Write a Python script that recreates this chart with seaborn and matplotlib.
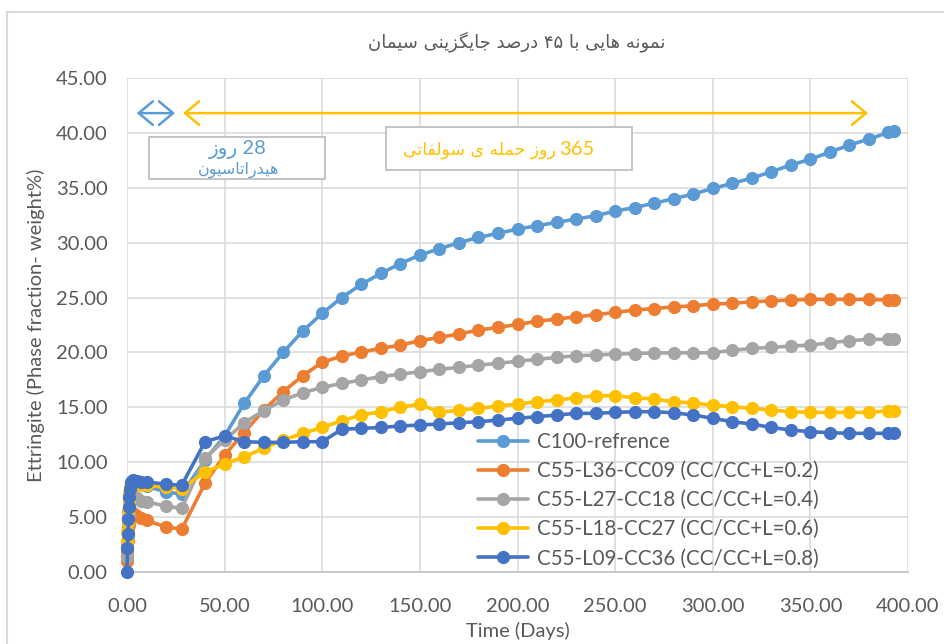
import numpy as np
import pandas as pd
import matplotlib
matplotlib.use("Agg")
import matplotlib.pyplot as plt
import seaborn as sns
from matplotlib.patches import Rectangle, FancyArrowPatch
from matplotlib.lines import Line2D

# ---------------- data ----------------
days = [0, 0.25, 0.5, 0.75, 1, 1.25, 1.5, 2, 3, 5, 7, 10, 20, 28,
        40, 50, 60, 70, 80, 90, 100, 110, 120, 130, 140, 150, 160, 170, 180, 190,
        200, 210, 220, 230, 240, 250, 260, 270, 280, 290, 300, 310, 320, 330, 340,
        350, 360, 370, 380, 390, 393]

c100_ref = [1.5, 2.8, 4.0, 5.0, 5.9, 6.7, 7.3, 7.8, 8.0, 8.0, 7.9, 7.8, 7.3, 7.1,
            10.2, 12.4, 15.35, 17.85, 20.0, 21.95, 23.56, 25.0, 26.2, 27.2, 28.1, 28.87,
            29.45, 30.0, 30.48, 30.85, 31.24, 31.54, 31.85, 32.15, 32.45, 32.88, 33.2,
            33.6, 34.0, 34.43, 34.94, 35.4, 35.88, 36.46, 37.07, 37.6, 38.25, 38.89,
            39.44, 40.04, 40.16]

c55_l36_cc09 = [1.0, 1.9, 2.8, 3.6, 4.3, 4.9, 5.3, 5.5, 5.4, 5.1, 4.9, 4.7, 4.1, 3.9,
                8.1, 10.65, 12.7, 14.75, 16.42, 17.88, 19.1, 19.67, 20.04, 20.37, 20.67,
                21.07, 21.37, 21.68, 22.04, 22.28, 22.56, 22.83, 23.04, 23.25, 23.43,
                23.65, 23.86, 24.0, 24.15, 24.25, 24.4, 24.47, 24.62, 24.7, 24.77, 24.83,
                24.83, 24.83, 24.83, 24.77, 24.77]

c55_l27_cc18 = [1.4, 2.5, 3.5, 4.4, 5.2, 5.9, 6.4, 6.8, 6.9, 6.7, 6.5, 6.4, 6.0, 5.8,
                10.4, 12.0, 13.6, 14.7, 15.66, 16.33, 16.82, 17.18, 17.49, 17.79, 18.03,
                18.24, 18.46, 18.64, 18.85, 19.0, 19.2, 19.37, 19.55, 19.7, 19.76, 19.85,
                19.9, 19.95, 19.97, 19.97, 19.97, 20.2, 20.37, 20.46, 20.58, 20.67, 20.88,
                21.07, 21.19, 21.19, 21.19]

c55_l18_cc27 = [2.8, 3.6, 4.6, 5.6, 6.5, 7.2, 7.7, 8.0, 8.1, 8.0, 7.9, 7.9, 7.7, 7.6,
                9.1, 9.84, 10.5, 11.26, 12.02, 12.63, 13.17, 13.78, 14.3, 14.6, 15.0, 15.3,
                14.54, 14.75, 14.9, 15.12, 15.3, 15.51, 15.66, 15.87, 16.06, 16.06, 15.87,
                15.76, 15.51, 15.4, 15.2, 15.06, 14.9, 14.75, 14.6, 14.54, 14.54, 14.54,
                14.54, 14.69, 14.69]

c55_l09_cc36 = [0.0, 2.2, 3.5, 4.8, 5.9, 6.8, 7.6, 8.2, 8.4, 8.3, 8.2, 8.2, 8.0, 7.9,
                11.87, 12.4, 11.87, 11.81, 11.81, 11.87, 11.87, 13.0, 13.08, 13.17, 13.3,
                13.39, 13.48, 13.6, 13.69, 13.84, 14.0, 14.15, 14.3, 14.45, 14.45, 14.54,
                14.6, 14.6, 14.5, 14.3, 14.0, 13.69, 13.48, 13.17, 12.93, 12.78, 12.69,
                12.63, 12.63, 12.63, 12.63]

series_names = ["C100-refrence",
                "C55-L36-CC09 (CC/CC+L=0.2)",
                "C55-L27-CC18 (CC/CC+L=0.4)",
                "C55-L18-CC27 (CC/CC+L=0.6)",
                "C55-L09-CC36 (CC/CC+L=0.8)"]
series_values = [c100_ref, c55_l36_cc09, c55_l27_cc18, c55_l18_cc27, c55_l09_cc36]
colors = ["#5B9BD5", "#ED7D31", "#A5A5A5", "#FFC000", "#4472C4"]

x_ticks = [0, 50, 100, 150, 200, 250, 300, 350, 400]
y_ticks = [0, 5, 10, 15, 20, 25, 30, 35, 40, 45]

title_text = "نمونه هایی با ۴۵ درصد جایگزینی سیمان"
box1_line1 = "28 روز"
box1_line2 = "هیدراتاسیون"
box2_number = "365"
box2_words = "روز حمله ی سولفاتی"
x_label = "Time (Days)"
y_label = "Ettringite (Phase fraction- weight%)"

# ------------- simple Arabic-script shaping for display -------------
_FORMS = {
    '\u0627': ('\uFE8D', '\uFE8E', None, None),
    '\u0628': ('\uFE8F', '\uFE90', '\uFE91', '\uFE92'),
    '\u062A': ('\uFE95', '\uFE96', '\uFE97', '\uFE98'),
    '\u062C': ('\uFE9D', '\uFE9E', '\uFE9F', '\uFEA0'),
    '\u062D': ('\uFEA1', '\uFEA2', '\uFEA3', '\uFEA4'),
    '\u062F': ('\uFEA9', '\uFEAA', None, None),
    '\u0631': ('\uFEAD', '\uFEAE', None, None),
    '\u0632': ('\uFEAF', '\uFEB0', None, None),
    '\u0633': ('\uFEB1', '\uFEB2', '\uFEB3', '\uFEB4'),
    '\u0635': ('\uFEB9', '\uFEBA', '\uFEBB', '\uFEBC'),
    '\u0641': ('\uFED1', '\uFED2', '\uFED3', '\uFED4'),
    '\u0644': ('\uFEDD', '\uFEDE', '\uFEDF', '\uFEE0'),
    '\u0645': ('\uFEE1', '\uFEE2', '\uFEE3', '\uFEE4'),
    '\u0646': ('\uFEE5', '\uFEE6', '\uFEE7', '\uFEE8'),
    '\u0647': ('\uFEE9', '\uFEEA', '\uFEEB', '\uFEEC'),
    '\u0648': ('\uFEED', '\uFEEE', None, None),
    '\u06CC': ('\uFBFC', '\uFBFD', '\uFBFE', '\uFBFF'),
    '\u06AF': ('\uFB92', '\uFB93', '\uFB94', '\uFB95'),
}


def _shape_word(w):
    out = []
    n = len(w)
    for i, c in enumerate(w):
        f = _FORMS.get(c)
        if f is None:
            out.append(c)
            continue
        prev = w[i - 1] if i > 0 else None
        nxt = w[i + 1] if i < n - 1 else None
        jp = prev in _FORMS and _FORMS[prev][2] is not None
        jn = (nxt in _FORMS) and f[2] is not None
        if jp and jn:
            out.append(f[3])
        elif jp:
            out.append(f[1])
        elif jn:
            out.append(f[2])
        else:
            out.append(f[0])
    return ''.join(out)


def rtl(s):
    res = []
    for w in reversed(s.split(' ')):
        if any(c in _FORMS for c in w):
            res.append(_shape_word(w)[::-1])
        else:
            res.append(w)
    return ' '.join(res)


# ---------------- plot ----------------
sns.set_theme(style="white")
plt.rcParams['font.family'] = ['Lato', 'DejaVu Sans']

W, H = 944, 644
fig = plt.figure(figsize=(W / 100, H / 100), dpi=100)
ax = fig.add_axes([127 / W, 1 - 572 / H, (908 - 127) / W, (572 - 78) / H])

frames = []
for name, vals in zip(series_names, series_values):
    frames.append(pd.DataFrame({"Days": days, "Ettringite": vals, "Series": name}))
df = pd.concat(frames, ignore_index=True)

for name, col in zip(series_names, colors):
    sub = df[df["Series"] == name]
    sns.lineplot(data=sub, x="Days", y="Ettringite", ax=ax, color=col, label=name,
                 linewidth=2.6, marker="o", markersize=9.5, markeredgewidth=0,
                 clip_on=False, zorder=3)

ax.set_xlim(0, 400)
ax.set_ylim(0, 45)
ax.set_xticks(x_ticks)
ax.set_yticks(y_ticks)
ax.set_xticklabels([f"{v:.2f}" for v in x_ticks])
ax.set_yticklabels([f"{v:.2f}" for v in y_ticks])
ax.tick_params(axis='both', length=0, labelsize=14.5, colors="#595959")
ax.tick_params(axis='x', pad=19)
ax.tick_params(axis='y', pad=14)
ax.grid(True, color="#D9D9D9", linewidth=1.1)
ax.set_axisbelow(True)
for s in ["top", "right", "left"]:
    ax.spines[s].set_visible(False)
ax.spines["bottom"].set_color("#BFBFBF")
ax.spines["bottom"].set_linewidth(1.1)

ax.set_xlabel(x_label, fontsize=14.5, color="#595959", labelpad=5)
ax.set_ylabel(y_label, fontsize=14.5, color="#595959", labelpad=8)

fig.text(517 / W, 1 - 42 / H, rtl(title_text), ha="center", va="center",
         fontsize=13, color="#595959", family=['DejaVu Sans'])

leg = ax.legend(loc="upper left", bbox_to_anchor=((470 - 127) / (908 - 127), (572 - 424) / (572 - 78)),
                frameon=False, fontsize=14.8, handlelength=2.4, handletextpad=0.45,
                labelspacing=0.44, borderaxespad=0)
for t in leg.get_texts():
    t.set_color("#595959")

# annotation shapes (Excel-style callouts)
ytop = 41.8
arrow_style = "<->,head_length=0.6,head_width=0.5"
blue_arrow = FancyArrowPatch((5.0, ytop), (24.6, ytop), arrowstyle=arrow_style,
                             color="#5B9BD5", linewidth=1.8, mutation_scale=17, shrinkA=0, shrinkB=0,
                             clip_on=False, zorder=5)
ax.add_patch(blue_arrow)
yellow_arrow = FancyArrowPatch((28.7, ytop), (379.5, ytop), arrowstyle=arrow_style,
                               color="#FFC000", linewidth=1.8, mutation_scale=17, shrinkA=0, shrinkB=0,
                               clip_on=False, zorder=5)
ax.add_patch(yellow_arrow)

ax.add_patch(Rectangle((11.3, 35.8), 101.4 - 11.3, 39.6 - 35.8, facecolor="white",
                       edgecolor="#BFBFBF", linewidth=1.3, zorder=4))
ax.text(57, 38.5, rtl(box1_line1), ha="center", va="center", fontsize=14.5,
        color="#5B9BD5", zorder=6)
ax.text(57, 36.6, rtl(box1_line2), ha="center", va="center", fontsize=11.5,
        color="#5B9BD5", zorder=6, family=['DejaVu Sans'])

ax.add_patch(Rectangle((132.6, 36.6), 258.6 - 132.6, 40.5 - 36.6, facecolor="white",
                       edgecolor="#BFBFBF", linewidth=1.3, zorder=4))
ax.text(239.6, 38.45, box2_number, ha="right", va="center", fontsize=14.5,
        color="#FFC000", zorder=6)
ax.text(219.5, 38.4, rtl(box2_words), ha="right", va="center", fontsize=12.4,
        color="#FFC000", zorder=6, family=['DejaVu Sans'])

# outer chart border (cropped)
fig.add_artist(Line2D([7 / W, 1], [1 - 12 / H, 1 - 12 / H], color="#D9D9D9", linewidth=1.5))
fig.add_artist(Line2D([7 / W, 7 / W], [0, 1 - 12 / H], color="#D9D9D9", linewidth=1.5))

fig.savefig("out.png", dpi=100)
